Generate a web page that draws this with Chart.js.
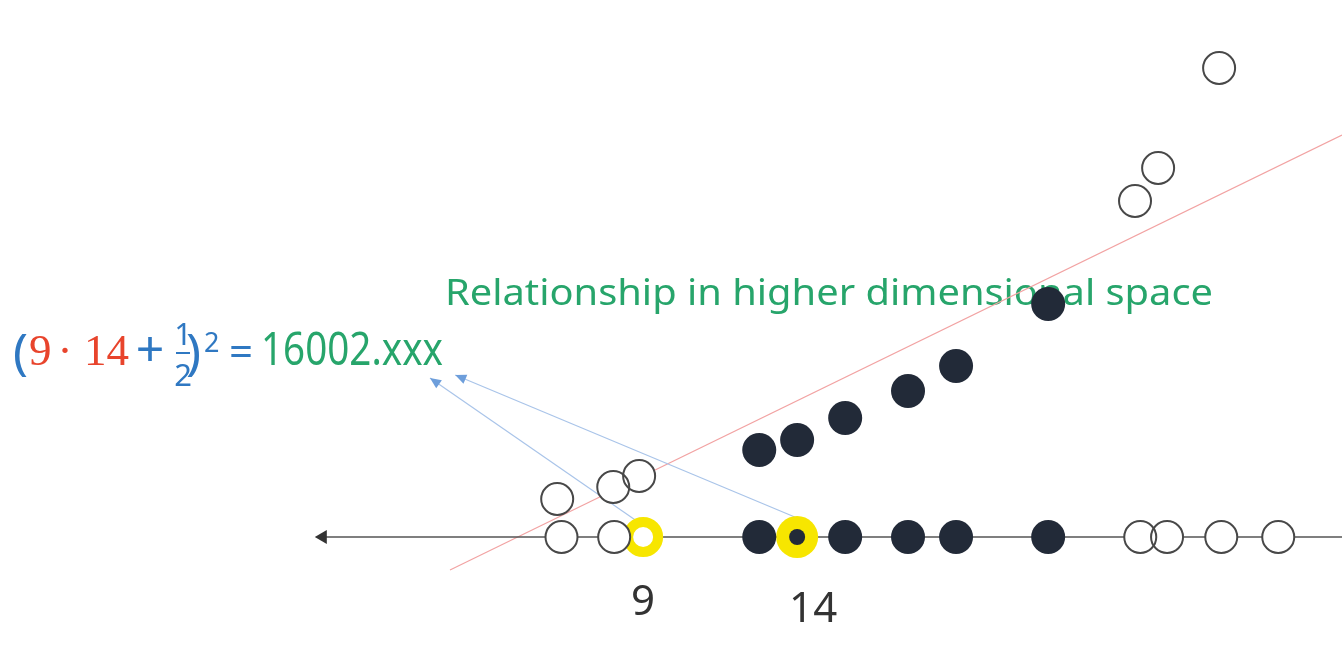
<!DOCTYPE html>
<html>
<head>
<meta charset="utf-8">
<script src="https://cdn.jsdelivr.net/npm/chart.js@4/dist/chart.umd.min.js"></script>
<style>
  html, body { margin: 0; padding: 0; background: #fff; }
  #c { display: block; }
</style>
</head>
<body>
<canvas id="c" width="1342" height="654"></canvas>
<script>
// ── Data (feature value x, lifted height y)
const baseOpenX     = [6.35, 8.06, 25.14, 26.01, 27.77, 29.62];
const baseFilledX   = [12.77, 15.56, 17.6, 19.16, 22.15];
const liftedOpenX   = [6.21, 8.03, 8.87, 24.97, 25.72, 27.7];
const liftedOpenY   = [3.8, 5.0, 6.1, 33.6, 36.9, 46.9];
const liftedFilledX = [12.77, 14.0, 15.56, 17.6, 19.16, 22.15];
const liftedFilledY = [8.7, 9.7, 11.9, 14.6, 17.1, 23.3];
const highlightX    = [9, 14];
const highlightTags = ['9', '14'];
const boundaryX     = [2.73, 31.69];
const boundaryY     = [-3.3, 40.2];
const axisX         = [-1.4, 31.69];
const arrowFrom     = [[8.84, 1.5], [14.0, 1.9]];
const arrowTo       = [[2.08, 15.9], [2.90, 16.2]];

const BLUE = '#2f78c2', RED = '#e8442c', GREEN = '#27a56b', INK = '#222a38';

const pts = (xs, ys) => xs.map((x, i) => ({ x, y: ys ? ys[i] : 0 }));

// ── Text drawn under the points
const textPlugin = {
  id: 'texts',
  beforeDatasetsDraw(chart) {
    const { ctx, scales: { x } } = chart;
    const put = (str, px, py, font, color, align = 'left') => {
      ctx.save();
      ctx.font = font; ctx.fillStyle = color;
      ctx.textAlign = align; ctx.textBaseline = 'alphabetic';
      ctx.fillText(str, px, py);
      ctx.restore();
    };
    const fit = (str, px, py, w, font, color) => {
      ctx.save();
      ctx.font = font; ctx.fillStyle = color;
      ctx.textBaseline = 'alphabetic';
      const m = ctx.measureText(str).width;
      ctx.translate(px, py); ctx.scale(w / m, 1);
      ctx.fillText(str, 0, 0);
      ctx.restore();
    };

    fit('Relationship in higher dimensional space', 445, 305, 768, '37px "Noto Sans"', GREEN);

    // formula
    put('(', 13, 369, '50px "Noto Sans"', BLUE);
    put('9', 29, 365, '45px "Liberation Serif"', RED);
    put('\u00b7', 65, 365, '45px "Liberation Serif"', RED, 'center');
    put('14', 84, 365, '45px "Liberation Serif"', RED);
    put('+', 150, 366, '50px "Noto Sans"', BLUE, 'center');
    put('1', 183, 345, '31px "Noto Sans"', BLUE, 'center');
    ctx.save();
    ctx.strokeStyle = BLUE; ctx.lineWidth = 2;
    ctx.beginPath(); ctx.moveTo(176, 353); ctx.lineTo(190, 353); ctx.stroke();
    ctx.restore();
    put('2', 183, 386, '31px "Noto Sans"', BLUE, 'center');
    put(')', 186, 369, '50px "Noto Sans"', BLUE);
    put('2', 204, 352, '27px "Noto Sans"', BLUE);
    put('=', 229, 366, '42px "Noto Sans"', BLUE);
    fit('16002.xxx', 261, 365, 182, '46px "Noto Sans"', GREEN);

    // value labels under the highlighted points
    put(highlightTags[0], x.getPixelForValue(highlightX[0]), 615, '42px "Noto Sans"', '#333', 'center');
    put(highlightTags[1], x.getPixelForValue(highlightX[1]) + 16, 622, '42px "Noto Sans"', '#333', 'center');
  }
};

// ── Arrow heads at the end of the blue lines
const arrowPlugin = {
  id: 'arrowHeads',
  afterDatasetsDraw(chart) {
    const { ctx } = chart;
    chart.data.datasets.forEach((ds, i) => {
      if (!ds.arrowHead) return;
      const d = chart.getDatasetMeta(i).data;
      const a = d[d.length - 2], b = d[d.length - 1];
      const ang = Math.atan2(b.y - a.y, b.x - a.x);
      ctx.save();
      ctx.translate(b.x, b.y); ctx.rotate(ang);
      ctx.fillStyle = '#6d9edb';
      ctx.beginPath();
      ctx.moveTo(0, 0); ctx.lineTo(-11, -5); ctx.lineTo(-11, 5);
      ctx.closePath(); ctx.fill();
      ctx.restore();
    });
  }
};

const lineSet = (data, color, width, order, extra = {}) => Object.assign({
  type: 'line', data, borderColor: color, borderWidth: width,
  pointRadius: 0, showLine: true, fill: false, order, clip: false
}, extra);

new Chart(document.getElementById('c'), {
  type: 'scatter',
  data: {
    datasets: [
      lineSet(pts(boundaryX, boundaryY), '#f2a3a3', 1.2, 10),
      lineSet(pts(axisX), '#555', 1.5, 9, {
        pointRadius: [8, 0], pointStyle: 'triangle', rotation: -90,
        pointBackgroundColor: '#333', pointBorderWidth: 0
      }),
      ...arrowFrom.map((f, i) => lineSet(
        [{ x: f[0], y: f[1] }, { x: arrowTo[i][0], y: arrowTo[i][1] }],
        '#a9c4e9', 1.2, 8, { arrowHead: true })),
      { // highlighted 9 (ring)
        data: pts([highlightX[0]]), pointRadius: 15, borderWidth: 10,
        borderColor: '#f7e600', backgroundColor: '#fff', order: 7, clip: false
      },
      { // highlighted 14 (yellow disc)
        data: pts([highlightX[1]]), pointRadius: 21, borderWidth: 0,
        backgroundColor: '#f7e600', order: 7, clip: false
      },
      { // white fill of open points
        data: [...pts(baseOpenX), ...pts(liftedOpenX, liftedOpenY)],
        pointRadius: 16, borderWidth: 0, backgroundColor: '#fff', order: 6, clip: false
      },
      { // outlines of open points
        data: [...pts(baseOpenX), ...pts(liftedOpenX, liftedOpenY)],
        pointRadius: 16, borderWidth: 2, borderColor: '#484848',
        backgroundColor: 'rgba(0,0,0,0)', order: 5, clip: false
      },
      { // filled points
        data: [...pts(baseFilledX), ...pts(liftedFilledX, liftedFilledY)],
        pointRadius: 17, borderWidth: 0, backgroundColor: INK, order: 4, clip: false
      },
      { // dot inside 14
        data: pts([highlightX[1]]), pointRadius: 8, borderWidth: 0,
        backgroundColor: INK, order: 3, clip: false
      }
    ]
  },
  options: {
    responsive: false,
    animation: false,
    events: [],
    layout: { padding: 0, autoPadding: false },
    plugins: { legend: { display: false }, tooltip: { enabled: false } },
    scales: {
      x: { type: 'linear', display: false, min: -11.88, max: 31.69 },
      y: { type: 'linear', display: false, min: -11.7, max: 53.7 }
    }
  },
  plugins: [textPlugin, arrowPlugin]
});
</script>
</body>
</html>
